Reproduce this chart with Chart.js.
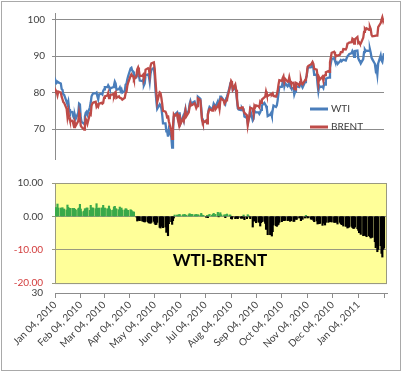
<!DOCTYPE html>
<html>
<head>
<meta charset="utf-8">
<title>WTI vs BRENT 2010</title>
<script src="https://cdn.jsdelivr.net/npm/chart.js@4.4.0/dist/chart.umd.min.js"></script>
<style>
  body { margin: 0; background: #fff; }
  #wrap { position: relative; width: 403px; height: 375px; overflow: hidden; }
  #frame { position: absolute; left: 1px; top: 1px; width: 398px; height: 368px; border: 1px solid #a9a9a9; }
  canvas { position: absolute; left: 0; }
  #priceChart { top: 0; }
  #spreadChart { top: 168px; }
</style>
</head>
<body>
<div id="wrap">
  <div id="frame"></div>
  <canvas id="priceChart" width="403" height="172"></canvas>
  <canvas id="spreadChart" width="403" height="207"></canvas>
</div>
<script>
// daily closes, Mon-Fri, one row per week starting Jan 04, 2010
const wti = [
  82.6, 83.2, 82.7, 83.0, 82.8,
  82.5, 81.0, 80.8, 79.5, 79.4,
  77.5, 76.8, 77.6, 75.5, 74.8,
  74.7, 73.5, 73.0, 73.8, 72.9,
  74.5, 77.0, 76.8, 73.2, 72.0,
  71.5, 73.5, 74.5, 74.8, 74.0,
  76.0, 77.3, 79.0, 79.5, 79.8,
  79.8, 80.0, 79.0, 78.2, 79.5,
  79.7, 79.5, 80.5, 80.9, 81.5,
  81.5, 82.0, 81.6, 81.0, 81.2,
  81.5, 82.0, 83.0, 82.5, 80.8,
  81.0, 81.4, 80.5, 80.9, 80.0,
  80.5, 82.2, 82.4, 83.6, 84.5,
  86.6, 86.8, 86.0, 85.8, 84.9,
  84.3, 85.0, 86.0, 84.8, 83.3,
  83.2, 83.5, 82.0, 82.5, 84.8,
  85.0, 84.4, 82.9, 85.2, 86.2,
  86.8, 84.5, 80.5, 77.6, 75.6,
  76.8, 76.4, 75.7, 74.0, 71.6,
  71.6, 69.4, 69.4, 68.0, 70.0,
  67.9, 65.0, 69.5, 73.5, 74.0,
  74.6, 72.9, 72.0, 74.6, 71.6,
  73.4, 72.5, 74.4, 75.5, 73.8,
  75.1, 76.9, 77.7, 76.9, 77.2,
  77.6, 76.8, 76.4, 76.5, 78.9,
  78.3, 75.9, 72.9, 72.0, 72.1,
  72.1, 71.9, 73.8, 75.4, 76.1,
  75.4, 75.9, 77.0, 76.6, 76.0,
  77.6, 76.7, 76.3, 78.9, 78.9,
  78.0, 77.5, 77.0, 78.4, 78.9,
  81.3, 82.5, 82.5, 82.0, 80.7,
  81.5, 80.3, 78.0, 75.7, 75.4,
  75.2, 75.8, 75.4, 75.4, 73.5,
  73.1, 71.6, 72.6, 73.4, 75.2,
  72.4, 72.8, 75.0, 74.8, 74.6,
  74.6, 74.2, 74.6, 75.3, 76.5,
  77.2, 76.8, 76.4, 75.6, 73.6,
  74.0, 74.4, 73.6, 75.2, 76.5,
  76.1, 76.5, 77.9, 79.8, 81.6,
  81.6, 82.8, 83.2, 81.7, 82.6,
  81.7, 82.0, 83.0, 81.7, 81.3,
  81.2, 79.5, 80.2, 81.8, 81.7,
  81.5, 82.5, 82.2, 81.9, 81.4,
  82.9, 83.9, 84.7, 86.5, 86.9,
  86.9, 87.1, 87.8, 86.7, 84.9,
  84.9, 82.3, 80.4, 81.9, 81.5,
  81.7, 81.3, 82.5, 82.2, 83.8,
  84.1, 84.1, 86.8, 88.0, 89.2,
  89.4, 88.7, 88.3, 88.4, 87.8,
  88.6, 88.9, 88.6, 88.8, 89.0,
  88.8, 89.4, 89.9, 90.2, 90.5,
  90.8, 91.4, 91.0, 89.8, 91.4,
  91.5, 89.4, 88.9, 88.5, 88.0,
  89.2, 91.1, 91.8, 91.4, 91.5,
  91.4, 91.9, 90.9, 89.6, 89.1,
  87.9, 86.2, 86.8, 85.0, 88.0,
  90.2, 88.8, 88.4, 89.7, 90.8
];

const brent = [
  80.1, 80.6, 80.2, 79.3, 80.3,
  80.0, 78.9, 78.2, 77.4, 77.2,
  75.6, 73.4, 74.9, 73.3, 72.4,
  72.3, 71.5, 70.6, 71.7, 71.0,
  72.2, 74.5, 73.2, 71.0, 70.6,
  69.9, 71.2, 72.8, 72.3, 71.5,
  74.2, 74.0, 76.5, 77.0, 77.3,
  77.5, 76.2, 76.6, 76.2, 77.0,
  77.2, 77.0, 77.2, 78.6, 79.0,
  79.2, 79.9, 78.5, 78.8, 79.4,
  79.6, 79.2, 80.0, 80.2, 78.6,
  79.0, 78.6, 78.5, 78.4, 78.1,
  78.6, 79.9, 80.2, 81.8, 82.7,
  84.6, 85.0, 84.6, 84.5, 83.6,
  84.5, 86.4, 86.9, 86.0, 84.6,
  84.6, 84.9, 83.6, 84.2, 86.3,
  86.7, 86.4, 84.8, 87.3, 88.0,
  88.3, 86.6, 83.0, 80.0, 77.4,
  80.1, 79.9, 78.6, 77.0, 75.0,
  74.8, 74.2, 73.2, 73.8, 72.2,
  69.5, 67.4, 70.8, 74.0, 73.6,
  74.2, 72.6, 71.5, 74.0, 71.4,
  72.9, 72.3, 73.8, 75.1, 73.5,
  74.6, 76.1, 77.1, 76.5, 76.6,
  77.1, 76.5, 75.8, 76.3, 78.4,
  77.9, 75.0, 72.5, 71.7, 71.9,
  72.4, 71.6, 74.2, 75.0, 75.5,
  75.1, 75.3, 76.1, 76.3, 75.4,
  76.4, 76.8, 75.6, 77.8, 78.4,
  77.8, 77.0, 77.4, 77.9, 78.2,
  80.9, 82.1, 83.2, 82.8, 80.9,
  82.2, 80.8, 78.5, 76.4, 75.7,
  75.8, 76.0, 76.0, 75.0, 74.5,
  73.8, 71.1, 72.5, 73.6, 75.9,
  75.6, 74.2, 76.4, 76.0, 76.5,
  76.3, 76.0, 77.5, 77.2, 78.1,
  78.7, 78.9, 80.3, 79.4, 79.1,
  79.5, 79.6, 79.5, 79.8, 79.1,
  78.9, 79.5, 80.5, 82.2, 83.4,
  83.2, 84.0, 84.5, 83.0, 83.8,
  83.0, 83.1, 84.2, 83.2, 82.6,
  82.7, 81.0, 80.9, 82.7, 82.6,
  82.0, 82.8, 83.5, 82.5, 82.3,
  83.4, 83.6, 84.8, 87.0, 87.3,
  87.7, 88.0, 88.4, 87.9, 86.5,
  86.3, 84.6, 82.5, 84.1, 83.6,
  84.4, 83.3, 84.5, 84.8, 85.6,
  85.9, 85.7, 88.3, 89.6, 90.9,
  91.2, 90.5, 89.9, 90.2, 90.1,
  90.4, 91.1, 91.1, 91.1, 91.9,
  91.8, 92.3, 93.4, 93.5, 93.7,
  93.8, 94.8, 94.6, 93.4, 94.6,
  95.2, 93.6, 93.8, 93.4, 93.4,
  95.0, 96.6, 97.5, 97.2, 97.6,
  97.2, 98.0, 97.4, 95.8, 95.4,
  95.5, 95.6, 95.6, 95.6, 97.9,
  99.0, 99.9, 100.6, 99.6, 100.3
];

const priceTicks = [70, 80, 90, 100];
const spreadTicks = [10, 0, -10, -20];
const spreadTitle = 'WTI-BRENT';
const tickLabels = [
  'Jan 04, 2010', 'Feb 04, 2010', 'Mar 04, 2010', 'Apr 04, 2010',
  'May 04, 2010', 'Jun 04, 2010', 'Jul 04, 2010', 'Aug 04, 2010',
  'Sep 04, 2010', 'Oct 04, 2010', 'Nov 04, 2010', 'Dec 04, 2010',
  'Jan 04, 2011', ''
];

const DAY = 86400000;
const start = Date.UTC(2010, 0, 4);
// x = days since Jan 04, 2010 (a Monday); trading days skip weekends
const dayOf = i => Math.floor(i / 5) * 7 + i % 5;
const tickDays = tickLabels.map((_, m) => Math.round((Date.UTC(2010, m, 4) - start) / DAY));

const spread = wti.map((v, i) => Math.round((v - brent[i]) * 100) / 100);

const FONT = 'Lato, "Liberation Sans", Arial, sans-serif';
Chart.defaults.font.family = FONT;
Chart.defaults.font.size = 10;
Chart.defaults.color = '#404040';

// legend drawn inside the plot, lower right
const legendPlugin = {
  id: 'insideLegend',
  afterDatasetsDraw(chart) {
    const ctx = chart.ctx;
    ctx.save();
    ctx.font = '10px ' + FONT;
    ctx.textBaseline = 'middle';
    ctx.fillStyle = '#404040';
    chart.data.datasets.forEach((ds, i) => {
      const y = 109 + i * 18;
      ctx.strokeStyle = ds.borderColor;
      ctx.lineWidth = 3;
      ctx.beginPath();
      ctx.moveTo(310, y);
      ctx.lineTo(328, y);
      ctx.stroke();
      ctx.fillText(ds.label, 331, y);
    });
    ctx.restore();
  }
};

// yellow band, title and the stray "30" label of the lower panel
const panelPlugin = {
  id: 'spreadPanel',
  beforeDraw(chart) {
    const { ctx, chartArea: a, scales: { y } } = chart;
    const top = y.getPixelForValue(spreadTicks[0]);
    const bottom = y.getPixelForValue(spreadTicks[spreadTicks.length - 1]);
    ctx.save();
    ctx.fillStyle = '#ffff99';
    ctx.fillRect(a.left, top, a.right - a.left, bottom - top);
    ctx.strokeStyle = '#9a9a80';
    ctx.lineWidth = 1;
    ctx.strokeRect(a.left + 0.5, top + 0.5, a.right - a.left - 1, bottom - top);
    ctx.restore();
  },
  afterDatasetsDraw(chart) {
    const { ctx, chartArea: a } = chart;
    ctx.save();
    ctx.font = 'bold 17px ' + FONT;
    ctx.fillStyle = '#000';
    ctx.textAlign = 'center';
    ctx.textBaseline = 'middle';
    ctx.fillText(spreadTitle, 220, 93);
    ctx.font = '10px ' + FONT;
    ctx.fillStyle = '#404040';
    ctx.textAlign = 'right';
    ctx.fillText('30', 43, a.bottom);
    ctx.restore();
  }
};

new Chart(document.getElementById('priceChart'), {
  type: 'line',
  data: {
    datasets: [
      {
        label: 'WTI',
        data: wti.map((v, i) => ({ x: dayOf(i), y: v })),
        borderColor: '#4a7ebb',
        borderWidth: 2.3,
        pointRadius: 0,
        order: 1
      },
      {
        label: 'BRENT',
        data: brent.map((v, i) => ({ x: dayOf(i), y: v })),
        borderColor: '#be4b48',
        borderWidth: 2.3,
        pointRadius: 0,
        order: 0
      }
    ]
  },
  options: {
    responsive: false,
    animation: false,
    layout: { padding: { top: 13, bottom: 2, left: 2, right: 19 }, autoPadding: false },
    plugins: { legend: { display: false }, tooltip: { enabled: false } },
    scales: {
      x: { type: 'linear', display: false, min: 0, max: 396 },
      y: {
        min: 61.86,
        max: 101.78,
        afterBuildTicks: s => { s.ticks = priceTicks.map(v => ({ value: v })); },
        afterFit: s => { s.width = 53; },
        grid: { color: '#8c8c8c', tickLength: 3 },
        border: { color: '#8c8c8c' },
        ticks: { padding: 7, color: '#404040' }
      }
    }
  },
  plugins: [legendPlugin]
});

new Chart(document.getElementById('spreadChart'), {
  type: 'bar',
  data: {
    datasets: [{
      label: spreadTitle,
      data: spread.map((v, i) => ({ x: dayOf(i), y: v })),
      backgroundColor: spread.map(v => v >= 0 ? '#3aa94a' : '#000000'),
      barThickness: 1.5,
      borderWidth: 0
    }]
  },
  options: {
    responsive: false,
    animation: false,
    layout: { padding: { top: 3, bottom: 0, left: 2, right: 16 }, autoPadding: false },
    plugins: { legend: { display: false }, tooltip: { enabled: false } },
    scales: {
      x: {
        type: 'linear',
        min: 0,
        max: 399.6,
        offset: false,
        afterBuildTicks: s => { s.ticks = tickDays.map(v => ({ value: v })); },
        afterFit: s => { s.height = 82; },
        grid: { drawOnChartArea: false, color: '#8c8c8c', tickLength: 5, offset: false },
        border: { color: '#8c8c8c' },
        ticks: {
          autoSkip: false,
          minRotation: 45,
          maxRotation: 45,
          padding: 1,
          color: '#404040',
          callback: (v, i) => tickLabels[i]
        }
      },
      y: {
        min: -22.97,
        max: 10,
        afterBuildTicks: s => { s.ticks = spreadTicks.map(v => ({ value: v })); },
        afterFit: s => { s.width = 53; },
        grid: { color: '#9a9a80', tickLength: 3 },
        border: { display: false },
        ticks: {
          padding: 9,
          color: c => c.tick && c.tick.value < 0 ? '#d23c3c' : '#404040',
          callback: v => v.toFixed(2)
        }
      }
    }
  },
  plugins: [panelPlugin]
});
</script>
</body>
</html>
